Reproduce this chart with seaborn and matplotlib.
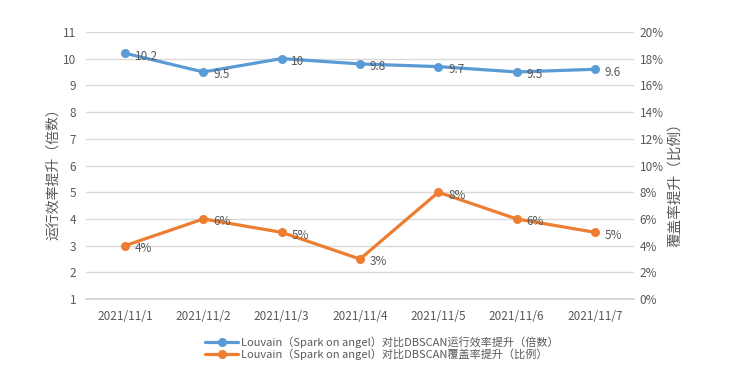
import matplotlib
import numpy as np
import pandas as pd
import seaborn as sns

matplotlib.use("Agg")
import matplotlib.pyplot as plt  # noqa: E402
from matplotlib.ticker import FuncFormatter, FixedLocator  # noqa: E402

sns.set_theme(style="white")
plt.rcParams["font.family"] = ["Noto Sans CJK SC", "DejaVu Sans"]
plt.rcParams["axes.unicode_minus"] = False

dates = ["2021/11/1", "2021/11/2", "2021/11/3", "2021/11/4", "2021/11/5", "2021/11/6", "2021/11/7"]
speedup = [10.2, 9.5, 10, 9.8, 9.7, 9.5, 9.6]
coverage = [0.04, 0.06, 0.05, 0.03, 0.08, 0.06, 0.05]
speed_labels = ["10.2", "9.5", "10", "9.8", "9.7", "9.5", "9.6"]
cover_labels = ["4%", "6%", "5%", "3%", "8%", "6%", "5%"]

name_speed = "Louvain（Spark on angel）对比DBSCAN运行效率提升（倍数）"
name_cover = "Louvain（Spark on angel）对比DBSCAN覆盖率提升（比例）"

BLUE, ORANGE = "#5B9BD5", "#ED7D31"
TXT, GRID = "#595959", "#D9D9D9"

df = pd.DataFrame({"date": dates, "speed": speedup, "cover": coverage})

fig = plt.figure(figsize=(7.34, 3.84), dpi=100)
ax = fig.add_axes([0.117, 0.221, 0.747, 0.696])
ax2 = ax.twinx()

sns.lineplot(data=df, x="date", y="speed", color=BLUE, marker="o", markersize=6.5,
             markeredgewidth=0, linewidth=2.3, ax=ax, label=name_speed, legend=False)
sns.lineplot(data=df, x="date", y="cover", color=ORANGE, marker="o", markersize=6.5,
             markeredgewidth=0, linewidth=2.3, ax=ax2, label=name_cover, legend=False)

for i, (v, t) in enumerate(zip(speedup, speed_labels)):
    ax.annotate(t, (i, v), xytext=(7, -2), textcoords="offset points",
                ha="left", va="center", fontsize=8.5, color=TXT)
for i, (v, t) in enumerate(zip(coverage, cover_labels)):
    ax2.annotate(t, (i, v), xytext=(7, -2), textcoords="offset points",
                 ha="left", va="center", fontsize=8.5, color=TXT)

ax.set_xlim(-0.5, len(dates) - 0.5)
ax.set_ylim(1, 11)
ax.set_yticks(range(1, 12))
ax2.set_ylim(0, 0.2)
ax2.set_yticks(np.arange(0, 0.201, 0.02))
ax2.yaxis.set_major_formatter(FuncFormatter(lambda v, _: f"{v * 100:.0f}%"))

ax.yaxis.grid(True, color=GRID, linewidth=1)
ax.set_axisbelow(True)
for a in (ax, ax2):
    for s in ("top", "left", "right"):
        a.spines[s].set_visible(False)
    a.spines["bottom"].set_color(GRID)
    a.tick_params(axis="y", length=0, labelsize=8.5, labelcolor=TXT)
ax.tick_params(axis="y", pad=7)
ax2.tick_params(axis="y", pad=4)

ax.tick_params(axis="x", which="major", length=0, labelsize=8.5, labelcolor=TXT, pad=8)
ax.xaxis.set_minor_locator(FixedLocator(np.arange(-0.5, len(dates), 1)))
ax.tick_params(axis="x", which="minor", length=4, color=GRID, width=1)
ax.set_xlabel("")

ax.set_ylabel("运行效率提升（倍数）", fontsize=10, color=TXT, labelpad=2)
ax.yaxis.label.set_y(0.48)
ax2.set_ylabel("覆盖率提升（比例）", fontsize=10.5, color=TXT, labelpad=3)
ax2.yaxis.label.set_y(0.44)

h1, l1 = ax.get_legend_handles_labels()
h2, l2 = ax2.get_legend_handles_labels()
leg = fig.legend(h1 + h2, l1 + l2, loc="center", bbox_to_anchor=(0.52, 0.094),
                 frameon=False, fontsize=8, handlelength=3, labelspacing=0.05,
                 handletextpad=0.2, borderpad=0)
for t in leg.get_texts():
    t.set_color(TXT)

fig.savefig("out.png", dpi=100)
